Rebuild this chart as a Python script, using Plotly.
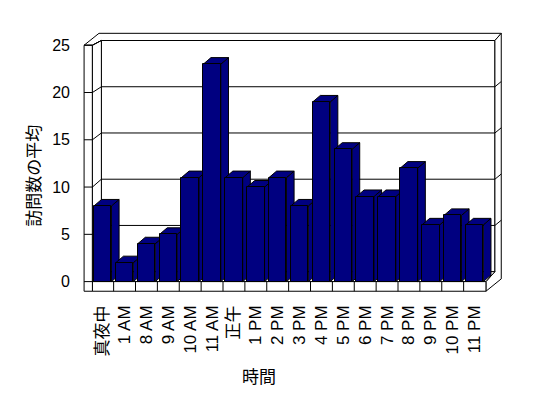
import plotly.graph_objects as go

# ---- data ----
categories = ["真夜中", "1 AM", "8 AM", "9 AM", "10 AM", "11 AM", "正午", "1 PM", "2 PM",
              "3 PM", "4 PM", "5 PM", "6 PM", "7 PM", "8 PM", "9 PM", "10 PM", "11 PM"]
values = [8, 2, 4, 5, 11, 23, 11, 10, 11, 8, 19, 14, 9, 9, 12, 6, 7, 6]
y_ticks = [0, 5, 10, 15, 20, 25]
x_title = "時間"
y_title = "訪問数の平均"

# ---- style / geometry constants ----
NAVY = "#000080"
FONT = "Liberation Sans, Arial, Noto Sans CJK JP"
BAR_W = 0.8
DX, DY = 0.35, 0.69          # bar depth offset (data units)
XL_OUT, XL_IN = -0.85, -0.47  # left wall front edges
XR_FRONT = 17.52              # right end of front floor
DXW = 0.41                    # wall depth in x
XR_BACK = XR_FRONT + DXW
XR_OUT = 18.22
FLOOR_B = -1.02
BACK0, BSCALE = 1.05, 0.978   # back-wall value mapping
TOP_OUT = 26.26
YMAX = y_ticks[-1]


def back(v):
    return BACK0 + v * BSCALE


def path(pts, close=True):
    s = "M " + " L ".join(f"{x},{y}" for x, y in pts)
    return s + (" Z" if close else "")


shapes = []


def add(pts, fill="white", close=True, width=1):
    shapes.append(dict(type="path", path=path(pts, close), xref="x", yref="y",
                       layer="below", fillcolor=fill if close else None,
                       line=dict(color="black", width=width)))


XB_L = XL_IN + DXW
# back wall
add([(XB_L, back(0)), (XR_BACK, back(0)), (XR_BACK, back(YMAX)), (XB_L, back(YMAX))])
# top outer slab
add([(XL_OUT, YMAX), (XL_OUT + 0.68, TOP_OUT), (XR_OUT, TOP_OUT), (XR_BACK, back(YMAX)),
     (XB_L, back(YMAX)), (XL_IN, YMAX)])
# right slab
add([(XR_BACK, back(YMAX)), (XR_OUT, TOP_OUT), (XR_OUT, 0.29), (XR_FRONT, FLOOR_B),
     (XR_FRONT, 0), (XR_BACK, back(0))])
# floor top
add([(XL_IN, 0), (XR_FRONT, 0), (XR_BACK, back(0)), (XB_L, back(0))])
# floor front
add([(XL_IN, FLOOR_B), (XR_FRONT, FLOOR_B), (XR_FRONT, 0), (XL_IN, 0)])
for i in range(len(categories) - 1):
    add([(i + 0.5, FLOOR_B), (i + 0.5, 0)], close=False)
# left wall front
add([(XL_OUT, FLOOR_B), (XL_IN, FLOOR_B), (XL_IN, YMAX), (XL_OUT, YMAX)])
# left wall side (between front and back)
add([(XL_IN, 0), (XL_IN, YMAX), (XB_L, back(YMAX)), (XB_L, back(0))])
for v in y_ticks:
    add([(XL_OUT, v), (XL_IN, v), (XB_L, back(v))], close=False)
    if 0 < v < YMAX:
        add([(XB_L, back(v)), (XR_BACK, back(v)), (XR_OUT, back(v) + 0.55)], close=False)

# bar side and top faces (from values)
for i, v in enumerate(values):
    l, r = i - BAR_W / 2, i + BAR_W / 2
    add([(r, 0), (r + DX, DY), (r + DX, v + DY), (r, v)], fill=NAVY)
    add([(l, v), (l + DX, v + DY), (r + DX, v + DY), (r, v)], fill=NAVY)

fig = go.Figure()
fig.add_trace(go.Bar(x=list(range(len(categories))), y=values, width=BAR_W,
                     marker=dict(color=NAVY, line=dict(color="black", width=1)),
                     hoverinfo="skip", showlegend=False))

fig.update_layout(
    width=548, height=398,
    margin=dict(l=83, r=45, t=32, b=106),
    paper_bgcolor="white", plot_bgcolor="white",
    shapes=shapes,
    bargap=0,
    font=dict(family=FONT, size=16, color="black"),
    xaxis=dict(range=[-0.9, 18.3], tickmode="array",
               tickvals=list(range(len(categories))), ticktext=categories,
               tickangle=-90, showgrid=False, zeroline=False, showline=False,
               ticks="", ticklabelstandoff=9, tickfont=dict(size=17, family=FONT)),
    yaxis=dict(range=[-1.1, 26.4], tickmode="array", tickvals=y_ticks,
               showgrid=False, zeroline=False, showline=False, ticks="",
               ticklabelstandoff=12, tickfont=dict(size=16, family=FONT)),
    annotations=[
        dict(text=y_title, xref="paper", yref="paper", x=-0.122, y=0.446,
             textangle=-90, showarrow=False, font=dict(size=17, family="Noto Sans CJK JP"),
             xanchor="center", yanchor="middle"),
        dict(text=x_title, xref="paper", yref="paper", x=0.419, y=-0.321,
             showarrow=False, font=dict(size=17, family="Noto Sans CJK JP"),
             xanchor="center", yanchor="middle"),
    ],
)

fig.write_html("out.html")
